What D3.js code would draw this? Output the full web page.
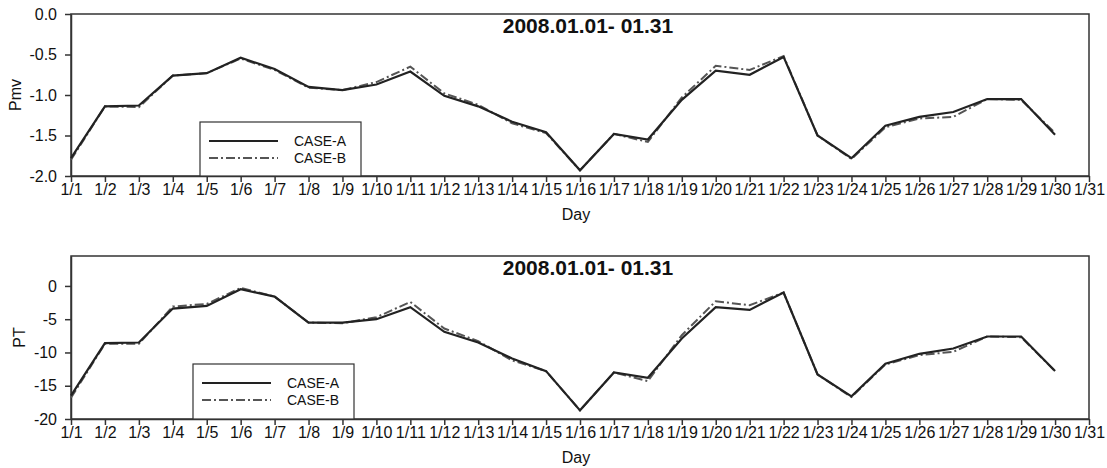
<!DOCTYPE html>
<html>
<head>
<meta charset="utf-8">
<script src="https://cdn.jsdelivr.net/npm/d3@7"></script>
<style>
  body { margin: 0; background: #fff; }
  svg { display: block; font-family: "Liberation Sans", Arial, sans-serif; }
</style>
</head>
<body>
<svg id="chart" width="1107" height="468"></svg>
<script>
// x axis labels 1/1 .. 1/31, data for 1/1 .. 1/30
const dayLabels = ['1/1','1/2','1/3','1/4','1/5','1/6','1/7','1/8','1/9','1/10',
  '1/11','1/12','1/13','1/14','1/15','1/16','1/17','1/18','1/19','1/20',
  '1/21','1/22','1/23','1/24','1/25','1/26','1/27','1/28','1/29','1/30','1/31'];

const pmvCaseA = [-1.78, -1.14, -1.13, -0.76, -0.73, -0.54, -0.68, -0.90, -0.94, -0.87,
  -0.71, -1.01, -1.14, -1.33, -1.46, -1.93, -1.48, -1.55, -1.06, -0.70,
  -0.75, -0.53, -1.50, -1.78, -1.38, -1.27, -1.21, -1.05, -1.05, -1.49];
const pmvCaseB = [-1.80, -1.14, -1.15, -0.76, -0.73, -0.55, -0.69, -0.91, -0.94, -0.84,
  -0.65, -0.98, -1.12, -1.35, -1.47, -1.93, -1.48, -1.58, -1.03, -0.64,
  -0.69, -0.52, -1.50, -1.79, -1.40, -1.29, -1.27, -1.05, -1.06, -1.47];

const ptCaseA = [-16.5, -8.6, -8.5, -3.4, -3.0, -0.5, -1.6, -5.5, -5.5, -5.0,
  -3.2, -6.9, -8.5, -10.9, -12.8, -18.7, -13.0, -13.8, -7.9, -3.2,
  -3.6, -1.0, -13.3, -16.6, -11.7, -10.2, -9.4, -7.6, -7.6, -12.8];
const ptCaseB = [-16.8, -8.7, -8.7, -3.1, -2.7, -0.3, -1.6, -5.5, -5.6, -4.7,
  -2.4, -6.4, -8.3, -11.2, -12.8, -18.7, -13.0, -14.3, -7.4, -2.3,
  -2.9, -1.0, -13.3, -16.7, -11.8, -10.4, -9.9, -7.6, -7.7, -12.8];

const pmvTicks = [0, -0.5, -1.0, -1.5, -2.0];
const ptTicks = [0, -5, -10, -15, -20];
const seriesNames = ['CASE-A', 'CASE-B'];
const titleText = '2008.01.01- 01.31';

const svg = d3.select('#chart');
const left = 71, right = 1089;
const font = '"Liberation Sans", Arial, sans-serif';

function panel(cfg) {
  const g = svg.append('g');
  const x = d3.scalePoint().domain(dayLabels).range([left, right]);
  const y = d3.scaleLinear().domain(cfg.domain).range([cfg.bottom, cfg.top]);

  // frame
  g.append('rect')
    .attr('x', left).attr('y', cfg.top)
    .attr('width', right - left).attr('height', cfg.bottom - cfg.top)
    .attr('fill', 'none').attr('stroke', '#333').attr('stroke-width', 1.5);

  const xAxis = g.append('g')
    .attr('transform', `translate(0,${cfg.bottom})`)
    .call(d3.axisBottom(x).tickSize(6).tickSizeOuter(0).tickPadding(2));
  const yAxis = g.append('g')
    .attr('transform', `translate(${left},0)`)
    .call(d3.axisLeft(y).tickValues(cfg.ticks).tickFormat(cfg.fmt)
      .tickSize(6).tickSizeOuter(0).tickPadding(8));
  [xAxis, yAxis].forEach(a => {
    a.select('.domain').attr('stroke', '#333').attr('stroke-width', 1.5);
    a.selectAll('.tick line').attr('stroke', '#333').attr('stroke-width', 1.5);
    a.selectAll('.tick text').attr('fill', '#111')
      .style('font-size', '16px').style('font-family', font);
  });

  // lines
  const line = d3.line().x((d, i) => x(dayLabels[i])).y(d => y(d));
  g.append('path').datum(cfg.b)
    .attr('d', line).attr('fill', 'none')
    .attr('stroke', '#555').attr('stroke-width', 2)
    .attr('stroke-dasharray', '9,3,2,3');
  g.append('path').datum(cfg.a)
    .attr('d', line).attr('fill', 'none')
    .attr('stroke', '#222').attr('stroke-width', 2.2);

  // title
  g.append('text')
    .attr('x', 588).attr('y', cfg.top + 19)
    .attr('text-anchor', 'middle')
    .style('font-size', '21px').style('font-weight', 'bold')
    .attr('fill', '#111')
    .text(titleText);

  g.append('text')
    .attr('x', 576).attr('y', cfg.bottom + 44)
    .attr('text-anchor', 'middle')
    .style('font-size', '16px').attr('fill', '#111')
    .text('Day');

  g.append('text')
    .attr('transform', `translate(${cfg.ylabX},${(cfg.top + cfg.bottom) / 2}) rotate(-90)`)
    .attr('text-anchor', 'middle')
    .style('font-size', '16px').attr('fill', '#111')
    .text(cfg.ylabel);

  // legend
  const lg = g.append('g');
  lg.append('rect')
    .attr('x', cfg.legX).attr('y', cfg.legY)
    .attr('width', 161).attr('height', cfg.bottom - cfg.legY)
    .attr('fill', '#fff').attr('stroke', '#333').attr('stroke-width', 1.2);
  seriesNames.forEach((name, i) => {
    const ly = cfg.legY + 19 + i * 17;
    lg.append('line')
      .attr('x1', cfg.legX + 9).attr('x2', cfg.legX + 78)
      .attr('y1', ly).attr('y2', ly)
      .attr('stroke', i ? '#555' : '#222').attr('stroke-width', 2)
      .attr('stroke-dasharray', i ? '9,3,2,3' : null);
    lg.append('text')
      .attr('x', cfg.legX + 94).attr('y', ly + 5)
      .style('font-size', '14px').attr('fill', '#111')
      .text(name);
  });
}

panel({
  top: 14, bottom: 176, domain: [-2, 0], ticks: pmvTicks,
  fmt: d => d.toFixed(1), a: pmvCaseA, b: pmvCaseB,
  ylabel: 'Pmv', ylabX: 21, legX: 200, legY: 122
});

panel({
  top: 256, bottom: 419, domain: [-20, 4.5], ticks: ptTicks,
  fmt: d => String(d), a: ptCaseA, b: ptCaseB,
  ylabel: 'PT', ylabX: 25, legX: 193, legY: 364
});
</script>
</body>
</html>
